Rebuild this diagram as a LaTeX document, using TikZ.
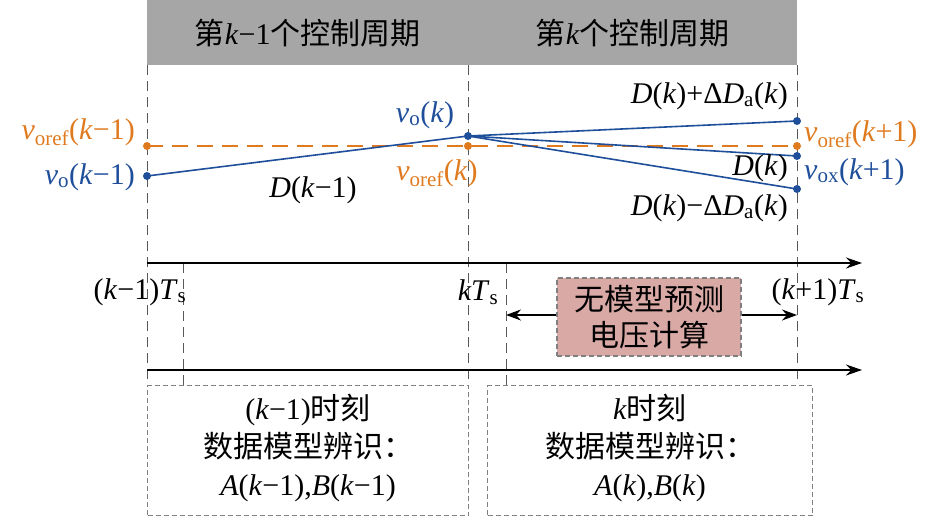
\documentclass[tikz,border=0pt]{standalone}
\usepackage{fontspec}
\setmainfont{Liberation Serif}
\newfontfamily\cjk{Noto Sans CJK SC}
\usetikzlibrary{arrows.meta}
\definecolor{vblue}{HTML}{1F4E9B}
\definecolor{vorange}{HTML}{E07A1F}
\definecolor{hdr}{HTML}{A6A6A6}
\definecolor{pinkbox}{HTML}{D9A9A6}
\newcommand{\vv}[1]{\textit{v}\textsubscript{#1}}
\begin{document}
\begin{tikzpicture}[x=1pt,y=-1pt,
  txt/.style={font=\fontsize{30}{35}\selectfont, inner sep=1pt},
  gl/.style={gray!70!black, dash pattern=on 10pt off 6pt, line width=1pt},
  bl/.style={vblue, line width=1.6pt},
  dotb/.style={circle, fill=vblue, inner sep=0pt, minimum size=8pt},
  doto/.style={circle, fill=vorange, inner sep=0pt, minimum size=8pt},
  axis/.style={line width=1.3pt, -{Stealth[length=16pt,width=11pt]}},
  dbox/.style={draw=gray, dash pattern=on 5pt off 3pt, line width=1.2pt}]
\useasboundingbox (0,0) rectangle (938,530);
\node[fill=hdr, minimum width=321pt, minimum height=65pt, anchor=north west, inner sep=0pt, txt] (h1) at (147,0) {{\cjk 第}\textit{k}−1{\cjk 个控制周期}};
\node[fill=hdr, minimum width=329pt, minimum height=65pt, anchor=north west, inner sep=0pt, txt] (h2) at (468,0) {{\cjk 第}\textit{k}{\cjk 个控制周期}};
\draw[gl] (147,65) -- (147,385);
\draw[gl] (468,65) -- (468,385);
\draw[gl] (797,65) -- (797,385);
\draw[gl] (183,263) -- (183,385);
\draw[gl] (506,263) -- (506,385);
\coordinate (o1) at (147,146); \coordinate (o2) at (468,146); \coordinate (o3) at (797,146);
\draw[vorange, line width=1.6pt, dash pattern=on 16pt off 9pt] (o1) -- (o3);
\node[doto] at (o1) {}; \node[doto] at (o2) {}; \node[doto] at (o3) {};
\coordinate (b1) at (147,176); \coordinate (b2) at (468,136);
\coordinate (p1) at (797,121); \coordinate (p2) at (797,156); \coordinate (p3) at (797,189);
\draw[bl] (b1) -- (b2); \draw[bl] (b2) -- (p1); \draw[bl] (b2) -- (p2); \draw[bl] (b2) -- (p3);
\foreach \p in {b1,b2,p1,p2,p3} \node[dotb] at (\p) {};
\node[txt, vorange, anchor=east] (l1) at (136,132) {\vv{oref}(\textit{k}−1)};
\node[txt, vblue, anchor=east] (l2) at (136,177) {\vv{o}(\textit{k}−1)};
\node[txt] (l3) at (313,190) {\textit{D}(\textit{k}−1)};
\node[txt, vblue] (l4) at (425,115) {\vv{o}(\textit{k})};
\node[txt, vorange] (l5) at (437,173) {\vv{oref}(\textit{k})};
\node[txt, anchor=east] (l6) at (789,96) {\textit{D}(\textit{k})+Δ\textit{D}\textsubscript{a}(\textit{k})};
\node[txt, anchor=east] (l7) at (789,168) {\textit{D}(\textit{k})};
\node[txt, anchor=east] (l8) at (789,208) {\textit{D}(\textit{k})−Δ\textit{D}\textsubscript{a}(\textit{k})};
\node[txt, vorange, anchor=west] (l9) at (803,134) {\vv{oref}(\textit{k}+1)};
\node[txt, vblue, anchor=west] (l10) at (803,172) {\vv{ox}(\textit{k}+1)};
\coordinate (a1s) at (147,263); \coordinate (a1e) at (862,263);
\coordinate (a2s) at (147,370); \coordinate (a2e) at (862,370);
\draw[axis] (a1s) -- (a1e);
\draw[axis] (a2s) -- (a2e);
\node[txt] (t1) at (140,292) {(\textit{k}−1)\textit{T}\textsubscript{s}};
\node[txt] (t2) at (478,292) {\textit{kT}\textsubscript{s}};
\node[txt] (t3) at (818,292) {(\textit{k}+1)\textit{T}\textsubscript{s}};
\node[dbox, fill=pinkbox, minimum width=184pt, minimum height=78pt, txt, align=center, font=\fontsize{30}{36}\selectfont] (pb) at (649,317) {{\cjk 无模型预测}\\{\cjk 电压计算}};
\coordinate (pl) at (506,315); \coordinate (pr) at (797,315);
\draw[line width=1.3pt, -{Stealth[length=15pt,width=11pt]}] (pb.west|-pl) -- (pl);
\draw[line width=1.3pt, -{Stealth[length=15pt,width=11pt]}] (pb.east|-pr) -- (pr);
\node[dbox, minimum width=321pt, minimum height=130pt, anchor=north west, inner sep=0pt] (bb1) at (147,385) {};
\node[dbox, minimum width=325pt, minimum height=130pt, anchor=north west, inner sep=0pt] (bb2) at (487,385) {};
\node[txt, align=center, font=\fontsize{30}{38}\selectfont] at ([yshift=3pt]bb1) {(\textit{k}−1){\cjk 时刻}\\{\cjk 数据模型辨识：}\\\textit{A}(\textit{k}−1),\textit{B}(\textit{k}−1)};
\node[txt, align=center, font=\fontsize{30}{38}\selectfont] at ([yshift=3pt]bb2) {\textit{k}{\cjk 时刻}\\{\cjk 数据模型辨识：}\\\textit{A}(\textit{k}),\textit{B}(\textit{k})};
\end{tikzpicture}
\end{document}
